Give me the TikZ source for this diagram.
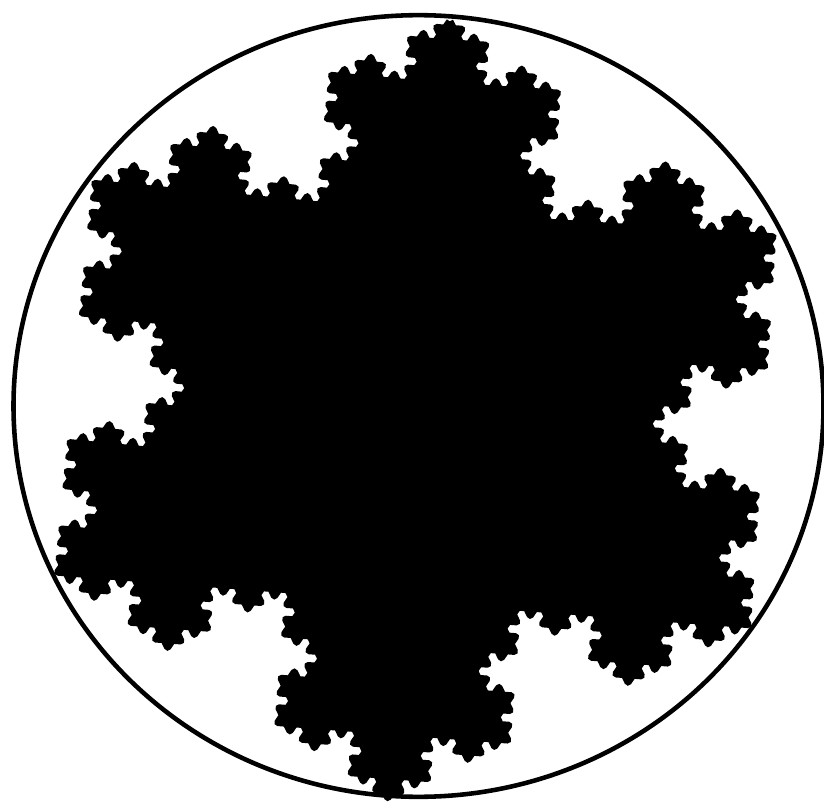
\documentclass[tikz,border=0pt]{standalone}
\usetikzlibrary{decorations.fractals}
\begin{document}
\begin{tikzpicture}
\useasboundingbox (0,0) rectangle (16.48,16.04);
\coordinate (centre) at (8.37,7.92);

\begin{scope}[shift={(centre)},yscale=0.965]
% snowflake
\filldraw[black,line width=4pt,line join=round,decoration=Koch snowflake]
  decorate{decorate{decorate{decorate{
    (85.5:8.0) -- (-34.5:8.0) -- (205.5:8.0) -- (85.5:8.0)
  }}}};

% circle
\draw[line width=2.6pt] (0,0) circle (8.1);
\end{scope}
\end{tikzpicture}
\end{document}
